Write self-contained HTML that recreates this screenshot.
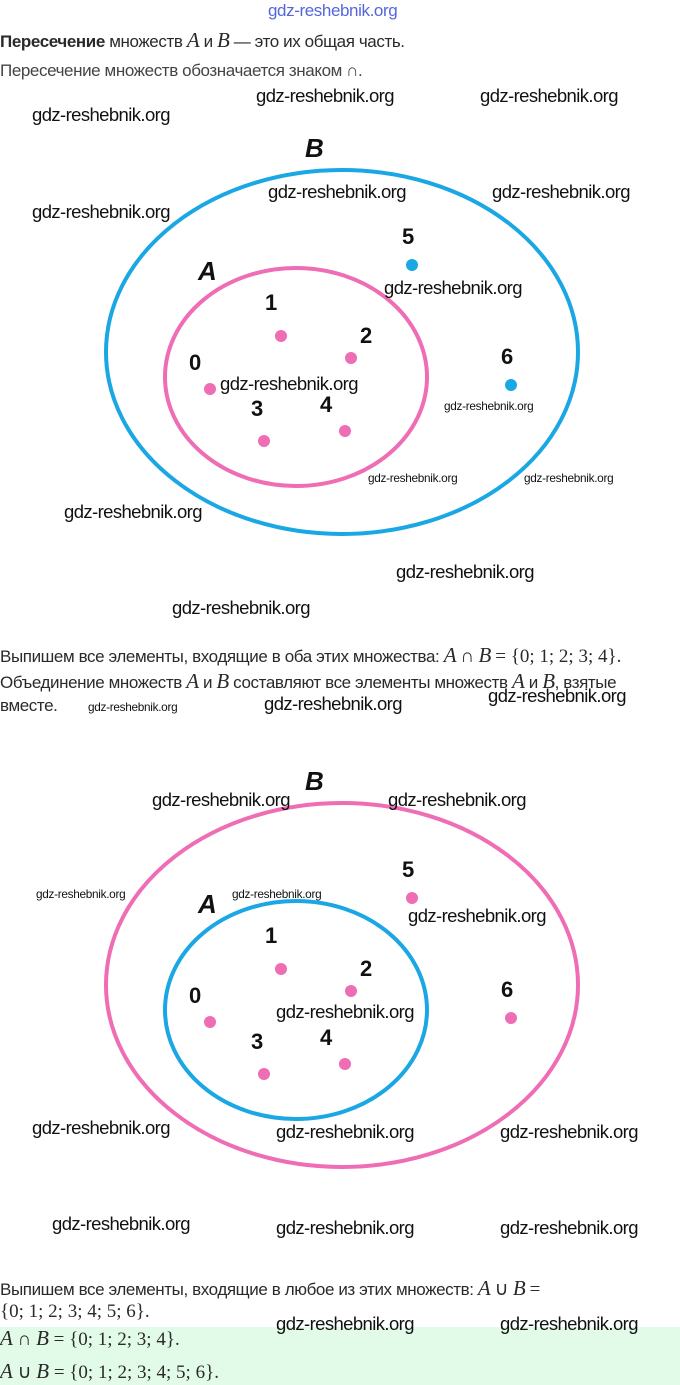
<!DOCTYPE html><html><head><meta charset="utf-8"><style>
body{margin:0;width:680px;height:1385px;background:#fff;position:relative;overflow:hidden;font-family:"Liberation Sans",sans-serif;color:#2a2a2a}
.t{position:absolute;font-size:17px;white-space:nowrap;letter-spacing:-0.4px}
.m{font-family:"Liberation Serif",serif;font-style:italic;font-size:21px}
.r{font-family:"Liberation Serif",serif;font-size:19px;letter-spacing:0}
.w{position:absolute;font-size:18.5px;color:#111;white-space:nowrap;letter-spacing:-0.6px}
.s{position:absolute;font-size:11.8px;color:#111;white-space:nowrap;letter-spacing:-0.3px}
</style></head><body>
<div style="position:absolute;left:0;top:1327px;width:680px;height:58px;background:#e2fbe8"></div>
<div class="t" style="left:268px;top:1px;color:#5566dd;font-size:17px">gdz-reshebnik.org</div>
<div class="t" style="left:0;top:28px"><b>Пересечение</b> множеств <span class="m">A</span> и <span class="m">B</span> — это их общая часть.</div>
<div class="t" style="left:0;top:61px;color:#444">Пересечение множеств обозначается знаком ∩.</div>
<svg width="680" height="1385" style="position:absolute;left:0;top:0" font-family="Liberation Sans" font-weight="bold">
<g>
<ellipse cx="342" cy="352" rx="236" ry="182" fill="none" stroke="#1aa7e4" stroke-width="4"/>
<ellipse cx="296" cy="377" rx="131" ry="109" fill="none" stroke="#ef6db4" stroke-width="4"/>
<g fill="#ef6db4"><circle cx="281" cy="336" r="6"/><circle cx="351" cy="358" r="6"/><circle cx="210" cy="389" r="6"/><circle cx="264" cy="441" r="6"/><circle cx="345" cy="431" r="6"/></g>
<g fill="#1aa7e4"><circle cx="412" cy="265" r="6"/><circle cx="511" cy="385" r="6"/></g>
<g font-size="22" fill="#111"><text x="265" y="310">1</text><text x="360" y="343">2</text><text x="189" y="370">0</text><text x="251" y="416">3</text><text x="320" y="412">4</text><text x="402" y="244">5</text><text x="501" y="364">6</text>
<text x="198" y="280" font-style="italic" font-size="26">A</text><text x="305" y="157" font-style="italic" font-size="26">B</text></g>
</g>
<g transform="translate(0,633)">
<ellipse cx="342" cy="352" rx="236" ry="182" fill="none" stroke="#ef6db4" stroke-width="4"/>
<ellipse cx="296" cy="377" rx="131" ry="109" fill="none" stroke="#1aa7e4" stroke-width="4"/>
<g fill="#ef6db4"><circle cx="281" cy="336" r="6"/><circle cx="351" cy="358" r="6"/><circle cx="210" cy="389" r="6"/><circle cx="264" cy="441" r="6"/><circle cx="345" cy="431" r="6"/><circle cx="412" cy="265" r="6"/><circle cx="511" cy="385" r="6"/></g>
<g font-size="22" fill="#111"><text x="265" y="310">1</text><text x="360" y="343">2</text><text x="189" y="370">0</text><text x="251" y="416">3</text><text x="320" y="412">4</text><text x="402" y="244">5</text><text x="501" y="364">6</text>
<text x="198" y="280" font-style="italic" font-size="26">A</text><text x="305" y="157" font-style="italic" font-size="26">B</text></g>
</g>
</svg>
<div class="w" style="left:256px;top:85px">gdz-reshebnik.org</div>
<div class="w" style="left:480px;top:85px">gdz-reshebnik.org</div>
<div class="w" style="left:32px;top:104px">gdz-reshebnik.org</div>
<div class="w" style="left:268px;top:181px">gdz-reshebnik.org</div>
<div class="w" style="left:492px;top:181px">gdz-reshebnik.org</div>
<div class="w" style="left:32px;top:201px">gdz-reshebnik.org</div>
<div class="w" style="left:384px;top:277px">gdz-reshebnik.org</div>
<div class="w" style="left:220px;top:373px">gdz-reshebnik.org</div>
<div class="s" style="left:444px;top:399px">gdz-reshebnik.org</div>
<div class="s" style="left:368px;top:471px">gdz-reshebnik.org</div>
<div class="s" style="left:524px;top:471px">gdz-reshebnik.org</div>
<div class="w" style="left:64px;top:501px">gdz-reshebnik.org</div>
<div class="w" style="left:396px;top:561px">gdz-reshebnik.org</div>
<div class="w" style="left:172px;top:597px">gdz-reshebnik.org</div>
<div class="t" style="left:0;top:643px">Выпишем все элементы, входящие в оба этих множества: <span class="m">A</span> <span class="r">∩</span> <span class="m">B</span> <span class="r">= {0; 1; 2; 3; 4}.</span></div>
<div class="t" style="left:0;top:669px">Объединение множеств <span class="m">A</span> и <span class="m">B</span> составляют все элементы множеств <span class="m">A</span> и <span class="m">B</span>, взятые</div>
<div class="t" style="left:0;top:696px">вместе.</div>
<div class="s" style="left:88px;top:700px">gdz-reshebnik.org</div>
<div class="w" style="left:264px;top:693px">gdz-reshebnik.org</div>
<div class="w" style="left:488px;top:685px">gdz-reshebnik.org</div>
<div class="w" style="left:152px;top:789px">gdz-reshebnik.org</div>
<div class="w" style="left:388px;top:789px">gdz-reshebnik.org</div>
<div class="s" style="left:36px;top:887px">gdz-reshebnik.org</div>
<div class="s" style="left:232px;top:887px">gdz-reshebnik.org</div>
<div class="w" style="left:408px;top:905px">gdz-reshebnik.org</div>
<div class="w" style="left:276px;top:1001px">gdz-reshebnik.org</div>
<div class="w" style="left:32px;top:1117px">gdz-reshebnik.org</div>
<div class="w" style="left:276px;top:1121px">gdz-reshebnik.org</div>
<div class="w" style="left:500px;top:1121px">gdz-reshebnik.org</div>
<div class="w" style="left:52px;top:1213px">gdz-reshebnik.org</div>
<div class="w" style="left:276px;top:1217px">gdz-reshebnik.org</div>
<div class="w" style="left:500px;top:1217px">gdz-reshebnik.org</div>
<div class="t" style="left:0;top:1276px">Выпишем все элементы, входящие в любое из этих множеств: <span class="m">A</span> <span class="r">∪</span> <span class="m">B</span> <span class="r">=</span></div>
<div class="t r" style="left:0;top:1301px">{0; 1; 2; 3; 4; 5; 6}.</div>
<div class="w" style="left:276px;top:1313px">gdz-reshebnik.org</div>
<div class="w" style="left:500px;top:1313px">gdz-reshebnik.org</div>
<div class="t r" style="left:0;top:1326px"><span class="m">A</span> ∩ <span class="m">B</span> = {0; 1; 2; 3; 4}.</div>
<div class="t r" style="left:0;top:1359px"><span class="m">A</span> ∪ <span class="m">B</span> = {0; 1; 2; 3; 4; 5; 6}.</div>
</body></html>
